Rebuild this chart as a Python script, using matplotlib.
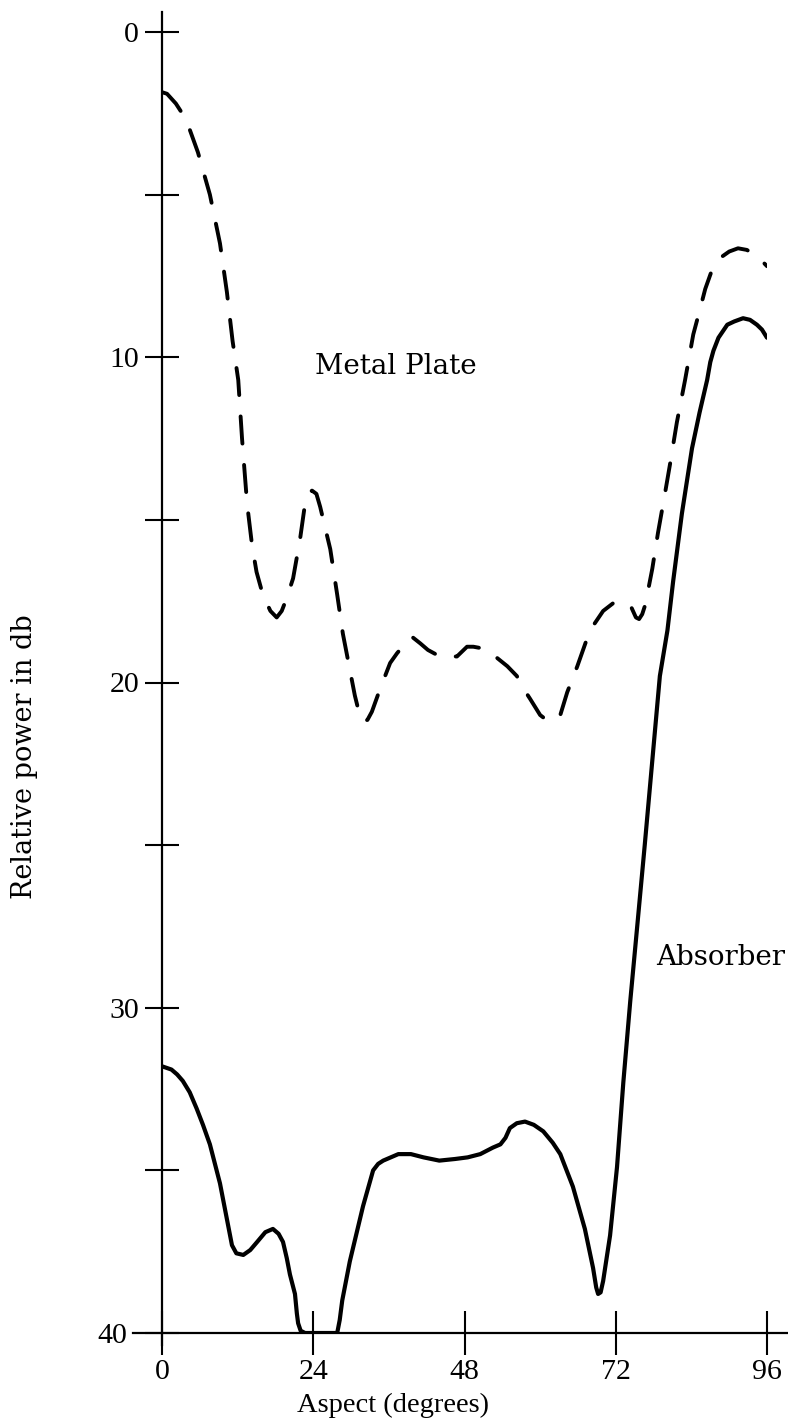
import numpy as np
import matplotlib
matplotlib.use("Agg")
import matplotlib.pyplot as plt
from matplotlib.transforms import ScaledTranslation

# metal plate (dashed), aspect in degrees vs relative power in db
metal_x = [0, 0.8, 2.2, 3.2, 4.4, 5.7, 7.6, 9.2, 10.3, 11.2, 12.1, 12.7, 13.5, 14.3, 15.0,
           16.0, 17.2, 18.2, 19.0, 19.8, 20.8, 21.9, 22.7, 23.2, 23.8, 24.5, 25.1,
           26.7, 27.8, 28.7, 29.7, 30.6, 31.3, 31.9, 32.6, 33.3, 34.6, 36.2, 37.3,
           38.6, 39.7, 41.0, 42.2, 44.1, 44.9, 46.8, 48.4, 49.4, 50.8, 52.2, 53.2,
           54.8, 56.3, 57.4, 58.4, 60.0, 61.0, 61.6, 62.3, 63.2, 64.3, 65.9, 67.9,
           70.0, 72.0, 73.5, 74.5, 75.2, 75.7, 76.2, 76.7, 77.8, 78.7, 79.8, 80.6,
           81.7, 83.0, 84.3, 85.4, 86.2, 87.3, 88.9, 90.0, 91.4, 92.8, 94.1, 95.0, 96.0]
metal_db = [1.85, 1.9, 2.2, 2.5, 3.0, 3.7, 5.0, 6.5, 8.0, 9.5, 10.7, 12.5, 14.5, 15.8, 16.6,
            17.3, 17.8, 18.0, 17.8, 17.4, 16.8, 15.6, 14.5, 14.2, 14.1, 14.2, 14.6,
            15.9, 17.3, 18.5, 19.5, 20.4, 20.95, 21.2, 21.15, 20.9, 20.2, 19.4, 19.1,
            18.8, 18.6, 18.8, 19.0, 19.2, 19.2, 19.2, 18.9, 18.9, 18.95, 19.1, 19.25,
            19.5, 19.8, 20.2, 20.5, 21.0, 21.15, 21.2, 21.15, 21.0, 20.3, 19.5, 18.4,
            17.8, 17.5, 17.6, 17.7, 18.0, 18.05, 17.9, 17.6, 16.5, 15.4, 14.2, 13.3,
            12.0, 10.7, 9.3, 8.5, 7.9, 7.3, 6.9, 6.75, 6.65, 6.7, 6.85, 7.0, 7.2]

# absorber (solid)
absorber_x = [0, 1.5, 2.4, 3.3, 4.4, 5.5, 6.5, 7.6, 9.2, 10.3, 11.1, 11.8, 12.9, 14.0,
              15.1, 16.4, 17.6, 18.5, 19.2, 19.8, 20.3, 21.1, 21.4, 21.6, 22.0, 22.7,
              25.0, 27.8, 28.2, 28.6, 29.8, 31.9, 33.5, 34.3, 35.1, 37.5, 39.5, 41.5,
              44.0, 46.5, 48.5, 50.5, 52.5, 53.7, 54.5, 55.2, 56.3, 57.6, 59.0, 60.5,
              62.0, 63.2, 65.2, 67.1, 68.4, 68.9, 69.2, 69.6, 70.0, 71.1, 72.2, 73.2,
              74.3, 75.5, 76.6, 77.8, 79.0, 80.2, 81.1, 82.5, 84.1, 85.3, 86.5, 87.0,
              87.5, 88.3, 89.7, 90.8, 92.2, 93.3, 94.4, 95.2, 96.0]
absorber_db = [31.8, 31.9, 32.05, 32.25, 32.6, 33.1, 33.6, 34.2, 35.4, 36.5, 37.3, 37.55,
               37.6, 37.45, 37.2, 36.9, 36.8, 36.95, 37.2, 37.7, 38.2, 38.8, 39.4, 39.7,
               39.93, 40.0, 40.0, 40.0, 39.6, 39.0, 37.8, 36.1, 35.0, 34.8, 34.7, 34.5,
               34.5, 34.6, 34.7, 34.65, 34.6, 34.5, 34.3, 34.2, 34.0, 33.7, 33.55, 33.5,
               33.6, 33.8, 34.15, 34.5, 35.5, 36.8, 38.0, 38.6, 38.8, 38.75, 38.4, 37.0,
               34.9, 32.3, 29.8, 27.3, 25.0, 22.4, 19.8, 18.4, 16.9, 14.8, 12.8, 11.7,
               10.7, 10.15, 9.8, 9.4, 9.0, 8.9, 8.8, 8.85, 9.0, 9.15, 9.4]

x_ticks = [0, 24, 48, 72, 96]
y_ticks = [0, 5, 10, 15, 20, 25, 30, 35, 40]
y_labels = ["0", "", "10", "", "20", "", "30", "", "40"]

label_font = "DejaVu Serif"
tick_font = "Liberation Serif"

fig = plt.figure(figsize=(7.88, 14.27), dpi=100)
ax = fig.add_axes([162/788, 1 - 1333/1427, 605/788, 1301/1427])

ax.plot(metal_x, metal_db, color="black", lw=2.8, dashes=(7, 5.5),
        dash_capstyle="round", solid_joinstyle="round")
ax.plot(absorber_x, absorber_db, color="black", lw=3.0,
        solid_capstyle="round", solid_joinstyle="round")

ax.set_xlim(0, 96)
ax.set_ylim(40, 0)

for s in ax.spines.values():
    s.set_visible(False)
# axis lines run a little past the data area, as in the original
ax.axvline(0, ymin=-0.0092, ymax=1.0154, color="black", lw=1.6, clip_on=False)
ax.axhline(40, xmin=-0.048, xmax=1.04, color="black", lw=1.6, clip_on=False)

ax.set_xticks(x_ticks)
ax.set_xticklabels([str(v) for v in x_ticks], fontfamily=tick_font, fontsize=21.5)
ax.set_yticks(y_ticks)
ax.set_yticklabels(y_labels, fontfamily=tick_font, fontsize=21.5)
ax.tick_params(axis="x", direction="inout", length=31, width=1.5, pad=3)
ax.tick_params(axis="y", direction="inout", length=25, width=1.5, pad=4)

# "40" sits left of where the x axis line starts
lab40 = ax.get_yticklabels()[-1]
lab40.set_transform(lab40.get_transform() + ScaledTranslation(-0.12, 0, fig.dpi_scale_trans))

ax.set_xlabel("Aspect (degrees)", fontfamily=tick_font, fontsize=20.5)
ax.xaxis.set_label_coords((393 - 162) / 605, -0.046)
ax.set_ylabel("Relative power in db", fontfamily=label_font, fontsize=19.5)
ax.yaxis.set_label_coords((38 - 162) / 605, 0.443)

ax.text(37.1, 10.5, "Metal Plate", fontfamily=label_font, fontsize=20,
        ha="center", va="baseline")
ax.text(88.6, 28.7, "Absorber", fontfamily=label_font, fontsize=20,
        ha="center", va="baseline")

fig.savefig("out.png", dpi=100, facecolor="white")
